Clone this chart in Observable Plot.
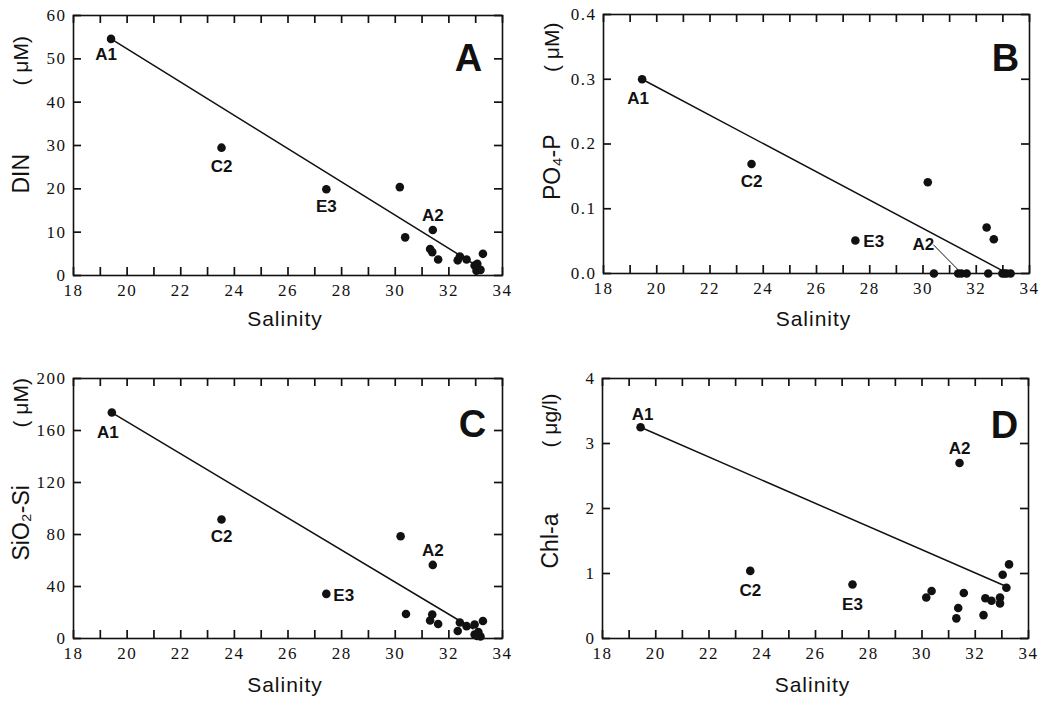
<!DOCTYPE html>
<html><head><meta charset="utf-8">
<script src="https://cdn.jsdelivr.net/npm/d3@7"></script>
<script src="https://cdn.jsdelivr.net/npm/@observablehq/plot@0.6"></script>
<style>
body{margin:0;background:#fff;}
#wrap{position:relative;width:1046px;height:705px;background:#fff;overflow:hidden;}
.panel{position:absolute;}
.panel svg g[aria-label$="tick label"] text{letter-spacing:1.5px;}
.panel svg g.big text{letter-spacing:1px;}
</style></head><body><div id="wrap"></div>
<script>
// ---- shared axis values ----
const salinityTicks = [18, 20, 22, 24, 26, 28, 30, 32, 34];
const salinityMinorTicks = [18, 19, 20, 21, 22, 23, 24, 25, 26, 27, 28, 29, 30, 31, 32, 33, 34];

// ---- Panel A: DIN ----
const salA = [19.4, 23.52, 27.43, 30.17, 30.37, 31.40, 31.30, 31.38, 31.60, 32.33, 32.41, 32.66, 33.27, 32.96, 33.06, 33.03, 33.18];
const dinA = [54.6, 29.5, 19.9, 20.4, 8.8, 10.5, 6.1, 5.4, 3.7, 3.5, 4.4, 3.7, 5.0, 2.3, 2.7, 1.1, 1.3];
const lineSalA = [19.4, 33.0];
const lineDinA = [54.6, 2.4];
const yTicksA = [0, 10, 20, 30, 40, 50, 60];
const stationNamesA = ["A1", "C2", "E3", "A2"];
const stationIdxA = [0, 1, 2, 5];

// ---- Panel B: PO4-P ----
const salB = [19.45, 23.56, 27.46, 30.18, 32.39, 32.66, 30.41, 31.32, 31.44, 31.64, 32.45, 32.98, 33.06, 33.14, 33.29];
const po4B = [0.300, 0.169, 0.051, 0.141, 0.071, 0.053, 0, 0, 0, 0, 0, 0, 0, 0, 0];
const lineSalB = [19.45, 33.05];
const linePo4B = [0.300, 0.003];
const yTicksB = [0, 0.1, 0.2, 0.3, 0.4];
const stationNamesB = ["A1", "C2", "E3", "A2"];
const stationIdxB = [0, 1, 2, 8];
const leaderSalB = [30.4, 31.36];
const leaderPo4B = [0.044, 0.004];

// ---- Panel C: SiO2-Si ----
const salC = [19.43, 23.52, 27.43, 30.2, 31.40, 30.4, 31.38, 31.3, 31.6, 32.33, 32.41, 32.66, 32.96, 33.27, 32.96, 33.1, 33.18, 33.05];
const siC = [173.8, 91.5, 34.3, 78.7, 56.6, 18.9, 18.5, 13.8, 11.2, 5.8, 12.3, 9.5, 10.8, 13.5, 3, 5, 1.5, 2];
const lineSalC = [19.43, 32.9];
const lineSiC = [173.8, 7.5];
const yTicksC = [0, 40, 80, 120, 160, 200];
const stationNamesC = ["A1", "C2", "E3", "A2"];
const stationIdxC = [0, 1, 2, 4];

// ---- Panel D: Chl-a ----
const salD = [19.43, 23.55, 27.39, 31.41, 30.16, 30.36, 31.36, 31.29, 31.57, 32.31, 32.38, 32.61, 32.93, 32.93, 33.03, 33.17, 33.27];
const chlD = [3.25, 1.04, 0.83, 2.70, 0.63, 0.73, 0.47, 0.31, 0.70, 0.36, 0.62, 0.58, 0.63, 0.54, 0.98, 0.78, 1.14];
const lineSalD = [19.43, 33.17];
const lineChlD = [3.25, 0.80];
const yTicksD = [0, 1, 2, 3, 4];
const stationNamesD = ["A1", "C2", "E3", "A2"];
const stationIdxD = [0, 1, 2, 3];

const SANS = "Liberation Sans";
const SERIF = "Liberation Serif";

function panel(cfg) {
  const {left, top, width, height, margin, sal, val, lineSal, lineVal, yTicks, yDomain, yFormat,
         names, idx, labelStyle, letter, letterOff, yName, yUnit, nameOff, unitOff, extra = []} = cfg;
  const iw = width - margin[1] - margin[3];
  const ih = height - margin[0] - margin[2];
  const tl = 8;
  const pts = sal.map((s, i) => ({s, v: val[i]}));
  const line = lineSal.map((s, i) => ({s, v: lineVal[i]}));
  const labs = names.map((n, i) => ({name: n, s: sal[idx[i]], v: val[idx[i]], st: labelStyle[i]}));
  const labelMarks = labs.map(l => Plot.text([l], {
    x: "s", y: "v", text: "name", dx: l.st[0], dy: l.st[1], textAnchor: l.st[2] || "middle",
    fontFamily: SANS, fontWeight: "bold", fontSize: 17, fill: "#111"
  }));
  const rule = {stroke: "#111", strokeWidth: 1.7};
  const svg = Plot.plot({
    width, height,
    marginTop: margin[0], marginRight: margin[1], marginBottom: margin[2], marginLeft: margin[3],
    x: {domain: [18, 34]},
    y: {domain: yDomain},
    style: {background: "white", color: "#111"},
    marks: [
      Plot.ruleX(salinityMinorTicks, {x: d => d, insetTop: ih - tl, ...rule}),
      Plot.ruleX(salinityMinorTicks, {x: d => d, insetBottom: ih - tl, ...rule}),
      Plot.ruleY(yTicks, {y: d => d, insetRight: iw - tl, ...rule}),
      Plot.ruleY(yTicks, {y: d => d, insetLeft: iw - tl, ...rule}),
      Plot.frame({stroke: "#111", strokeWidth: 1.6}),
      Plot.axisX({anchor: "bottom", ticks: salinityTicks, tickSize: 0, tickPadding: 8, label: null,
        fontFamily: SERIF, fontSize: 17, fill: "#111"}),
      Plot.axisY({anchor: "left", ticks: yTicks, tickSize: 0, tickPadding: 7, label: null, tickFormat: yFormat,
        fontFamily: SERIF, fontSize: 17, fill: "#111"}),
      ...extra,
      Plot.line(line, {x: "s", y: "v", stroke: "#111", strokeWidth: 1.5}),
      Plot.dot(pts, {x: "s", y: "v", r: 4.3, fill: "#111", stroke: "none"}),
      ...labelMarks,
      Plot.text([letter], {frameAnchor: "top-right", dx: letterOff[0], dy: letterOff[1], text: d => d,
        fontFamily: SANS, fontWeight: "bold", fontSize: 38, fill: "#111", textAnchor: "middle"}),
      Plot.text(["Salinity"], {frameAnchor: "bottom", dx: -3, dy: cfg.salDy, text: d => d,
        fontFamily: SANS, fontSize: 21, fill: "#111", className: "big"}),
      Plot.text([yName], {frameAnchor: "left", dx: nameOff[0], dy: nameOff[1], rotate: -90, text: d => d,
        fontFamily: SANS, fontSize: 23, fill: "#111"}),
      Plot.text([yUnit], {frameAnchor: "left", dx: unitOff[0], dy: unitOff[1], rotate: -90, text: d => d,
        fontFamily: SANS, fontSize: 21, fill: "#111"})
    ]
  });
  const div = document.createElement("div");
  div.className = "panel";
  div.style.left = left + "px";
  div.style.top = top + "px";
  div.appendChild(svg);
  document.getElementById("wrap").appendChild(div);
}

const leaderB = leaderSalB.map((s, i) => ({s, v: leaderPo4B[i]}));

panel({left: 0, top: 0, width: 520, height: 340, margin: [15, 18, 65, 73],
  sal: salA, val: dinA, lineSal: lineSalA, lineVal: lineDinA, yTicks: yTicksA, yDomain: [0, 60],
  yFormat: d3.format("d"), names: stationNamesA, idx: stationIdxA,
  labelStyle: [[-5, 16], [0, 19], [0, 17], [0, -14]],
  letter: "A", letterOff: [-34, 29], yName: "DIN", yUnit: "( μM)", nameOff: [-52, 48], unitOff: [-52, -60], salDy: 50});

panel({left: 520, top: 0, width: 526, height: 340, margin: [14, 17, 67, 83],
  sal: salB, val: po4B, lineSal: lineSalB, lineVal: linePo4B, yTicks: yTicksB, yDomain: [0, 0.4],
  yFormat: d3.format(".1f"), names: stationNamesB, idx: stationIdxB,
  labelStyle: [[-4, 19], [0, 17], [8, 1, "start"], [-38, -29]],
  letter: "B", letterOff: [-24, 30], yName: "PO₄-P", yUnit: "( μM)", nameOff: [-51, 56], unitOff: [-51, -72], salDy: 52,
  extra: [Plot.line(leaderB, {x: "s", y: "v", stroke: "#111", strokeWidth: 1})]});

panel({left: 0, top: 345, width: 520, height: 360, margin: [33, 18, 67, 73],
  sal: salC, val: siC, lineSal: lineSalC, lineVal: lineSiC, yTicks: yTicksC, yDomain: [0, 200],
  yFormat: d3.format("d"), names: stationNamesC, idx: stationIdxC,
  labelStyle: [[-4, 20], [0, 17], [7, 2, "start"], [0, -14]],
  letter: "C", letterOff: [-30, 32], yName: "SiO₂-Si", yUnit: "( μM)", nameOff: [-52, 52], unitOff: [-52, -81], salDy: 53});

panel({left: 520, top: 345, width: 526, height: 360, margin: [33, 18, 67, 82],
  sal: salD, val: chlD, lineSal: lineSalD, lineVal: lineChlD, yTicks: yTicksD, yDomain: [0, 4],
  yFormat: d3.format("d"), names: stationNamesD, idx: stationIdxD,
  labelStyle: [[2, -13], [0, 20], [0, 20], [0, -14]],
  letter: "D", letterOff: [-24, 33], yName: "Chl-a", yUnit: "( μg/l)", nameOff: [-52, 60], unitOff: [-52, -61], salDy: 53});
</script>
</body></html>
